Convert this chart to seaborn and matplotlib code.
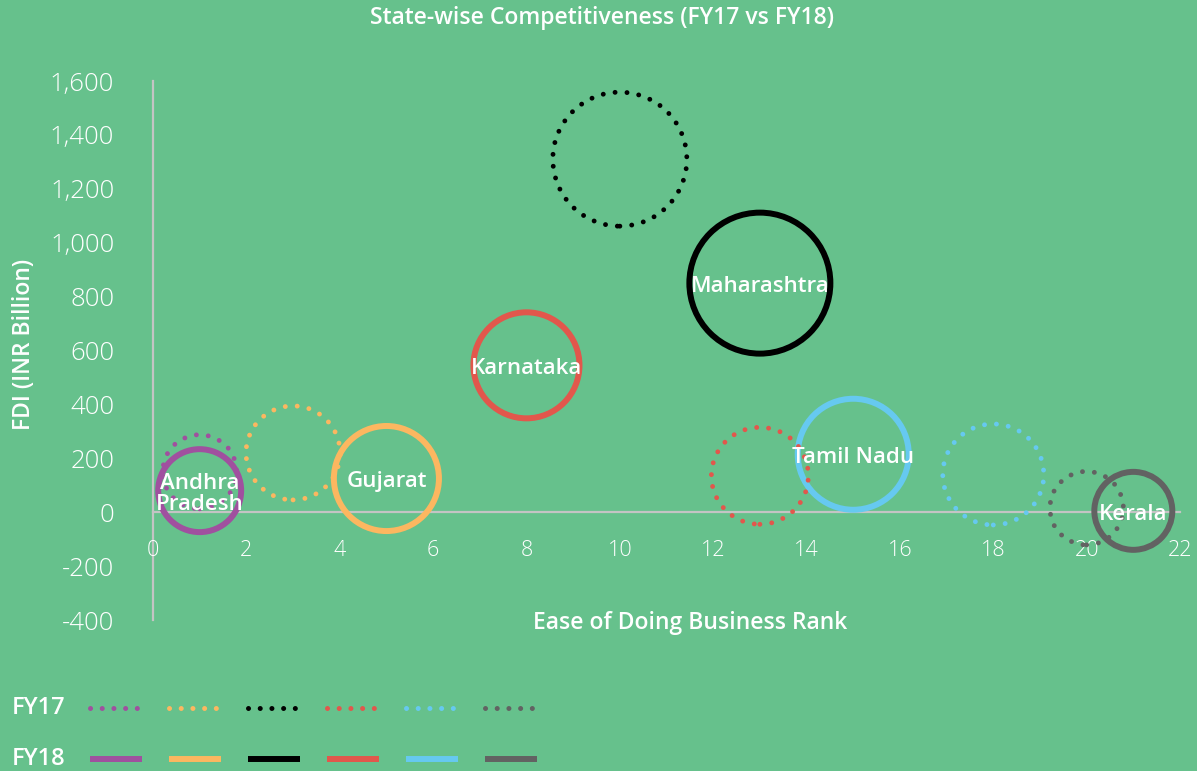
import matplotlib
matplotlib.use("Agg")
import matplotlib.pyplot as plt
from matplotlib.lines import Line2D
from matplotlib.ticker import FixedLocator, StrMethodFormatter
import numpy as np
import pandas as pd
import seaborn as sns

# ---- data -------------------------------------------------------------
states = ["Andhra Pradesh", "Gujarat", "Maharashtra", "Karnataka", "Tamil Nadu", "Kerala"]
labels = ["Andhra\nPradesh", "Gujarat", "Maharashtra", "Karnataka", "Tamil Nadu", "Kerala"]

rank_fy17 = [1, 3, 10, 13, 18, 20]
fdi_fy17 = [150, 220, 1310, 135, 140, 15]
bubble_fy17 = [13.7, 22.1, 44.9, 23.5, 25.5, 13.5]

rank_fy18 = [1, 5, 13, 8, 15, 21]
fdi_fy18 = [80, 125, 850, 545, 215, 5]
bubble_fy18 = [17.2, 27.6, 49.7, 28.1, 30.8, 15.2]

x_ticks = list(range(0, 23, 2))
y_ticks = list(range(-400, 1601, 200))

colors = ["#A0509F", "#FCB760", "#000000", "#E2574C", "#66C9F0", "#626262"]
bg = "#66C18C"
spine_col = "#C4C4C4"

df17 = pd.DataFrame({"state": states, "rank": rank_fy17, "fdi": fdi_fy17, "bubble": bubble_fy17})
df18 = pd.DataFrame({"state": states, "rank": rank_fy18, "fdi": fdi_fy18, "bubble": bubble_fy18})

# ---- style ------------------------------------------------------------
sns.set_style("white")
plt.rcParams["font.family"] = ["Open Sans", "DejaVu Sans"]
plt.rcParams["axes.unicode_minus"] = False

W, H = 1197, 771
fig = plt.figure(figsize=(W / 100, H / 100), dpi=100, facecolor=bg)
ax = fig.add_axes([153 / W, 1 - 620 / H, 1027 / W, 539 / H])
ax.set_facecolor(bg)

palette = dict(zip(states, colors))
size_kw = dict(size="bubble", size_norm=(0, 100), sizes=(0, 20736))


def hollow(coll):
    fc = coll.get_facecolors()
    coll.set_edgecolors(fc)
    coll.set_facecolors("none")
    coll.set_clip_on(False)


# FY18: solid rings
sns.scatterplot(data=df18, x="rank", y="fdi", hue="state", palette=palette,
                legend=False, linewidth=4.3, ax=ax, **size_kw)
hollow(ax.collections[-1])

# FY17: dotted rings
sns.scatterplot(data=df17, x="rank", y="fdi", hue="state", palette=palette,
                legend=False, linewidth=3.5, linestyle=(0, (0.01, 2.45)),
                capstyle="round", ax=ax, **size_kw)
hollow(ax.collections[-1])

# state names at the FY18 positions
for lab, xv, yv in zip(labels, rank_fy18, fdi_fy18):
    ax.annotate(lab, (xv, yv), xytext=(0, -2.5), textcoords="offset points",
                color="white", fontsize=16, fontweight="semibold",
                ha="center", va="center", linespacing=1.0, zorder=10)

# ---- axes -------------------------------------------------------------
ax.set_xlim(0, 22)
ax.set_ylim(-400, 1600)
ax.xaxis.set_major_locator(FixedLocator(x_ticks))
ax.yaxis.set_major_locator(FixedLocator(y_ticks))
ax.yaxis.set_major_formatter(StrMethodFormatter("{x:,.0f}"))
ax.xaxis.set_major_formatter(StrMethodFormatter("{x:.0f}"))

for s in ["top", "right"]:
    ax.spines[s].set_visible(False)
for s in ["left", "bottom"]:
    ax.spines[s].set_position(("data", 0))
    ax.spines[s].set_color(spine_col)
    ax.spines[s].set_linewidth(1.6)
    ax.spines[s].set_zorder(0.5)

ax.tick_params(axis="both", length=0, colors="white")
ax.tick_params(axis="y", labelsize=18.5, pad=28)
ax.tick_params(axis="x", labelsize=15.5, pad=20)
for t in ax.get_yticklabels() + ax.get_xticklabels():
    t.set_fontweight("light")

ax.set_xlabel("Ease of Doing Business Rank", color="white", fontsize=16.5,
              fontweight="semibold")
ax.xaxis.set_label_coords((690 - 153) / 1027, (620 - 623) / 539)
ax.xaxis.label.set_va("center")

ax.set_ylabel("FDI (INR Billion)", color="white", fontsize=16.5, fontweight="semibold")
ax.yaxis.set_label_coords((24 - 153) / 1027, (620 - 344) / 539)
ax.yaxis.label.set_va("center")

fig.text(602 / W, 1 - 18 / H, "State-wise Competitiveness (FY17 vs FY18)",
         color="white", fontsize=16.5, fontweight="semibold", ha="center", va="center")

# ---- custom legend ----------------------------------------------------
for yy, txt in [(708, "FY17"), (759, "FY18")]:
    fig.text(12 / W, 1 - yy / H, txt, color="white", fontsize=17,
             fontweight="semibold", ha="left", va="center")

starts = [90, 169, 248, 327, 406, 485]
for x0, c in zip(starts, colors):
    fig.add_artist(Line2D([x0 / W, (x0 + 49) / W], [1 - 708 / H] * 2,
                          transform=fig.transFigure, color=c, lw=3.6,
                          linestyle=(0, (0.01, 2.33)), dash_capstyle="round"))
    fig.add_artist(Line2D([x0 / W, (x0 + 52) / W], [1 - 759 / H] * 2,
                          transform=fig.transFigure, color=c, lw=4.3,
                          solid_capstyle="butt"))

fig.savefig("out.png", dpi=100, facecolor=bg)
